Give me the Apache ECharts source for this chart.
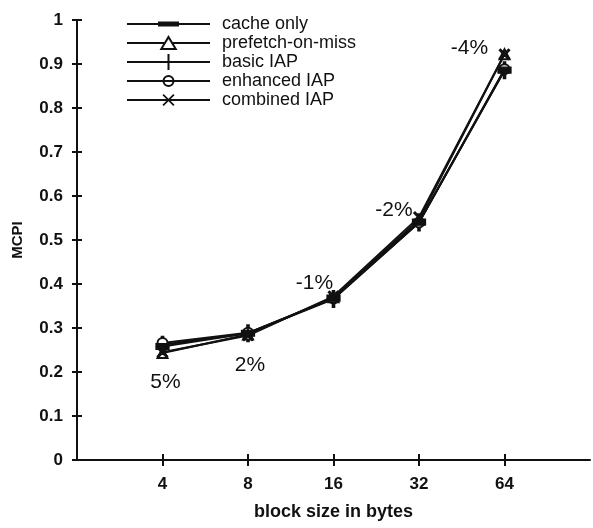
<!DOCTYPE html>
<html>
<head>
<meta charset="utf-8">
<script src="https://cdn.jsdelivr.net/npm/echarts@6/dist/echarts.min.js"></script>
<style>
  html, body { margin: 0; padding: 0; background: #fff; }
  #chart { width: 593px; height: 528px; }
</style>
</head>
<body>
<div id="chart"></div>
<script>
// Block sizes (bytes); empty slots pad the axis on both ends
const blockSizes = ['', '4', '8', '16', '32', '64', ''];

// MCPI per configuration, one value per block size
const cacheOnly    = [0.258, 0.288, 0.368, 0.541, 0.886];
const prefetchMiss = [0.243, 0.285, 0.370, 0.546, 0.922];
const basicIAP     = [0.262, 0.288, 0.366, 0.540, 0.886];
const enhancedIAP  = [0.266, 0.289, 0.367, 0.540, 0.888];
const combinedIAP  = [0.245, 0.283, 0.372, 0.552, 0.922];

// Change of combined IAP relative to cache only
const changeLabels = ['5%', '2%', '-1%', '-2%', '-4%'];
const labelOffsets = [[3, 30], [2, 30], [-19, -13], [-25, -7], [-35, -6]];

const seriesNames = ['cache only', 'prefetch-on-miss', 'basic IAP', 'enhanced IAP', 'combined IAP'];

const FONT = '"Liberation Sans", Arial, Helvetica, sans-serif';
const INK = '#111';

// Point markers
const barPath = 'path://M0,0h4v1h-4z';
const tickPath = 'path://M0,0h1v6h-1z';
const crossPath = 'path://M0,1L1,0L5,4L9,0L10,1L6,5L10,9L9,10L5,6L1,10L0,9L4,5Z';

// Legend icons: a line with its marker, laid out in an 83x17 box
const BOX = 'M0,0L0.01,0L0,0.01Z M83,17L82.99,17L83,16.99Z ';
const fullLine = 'M0,7.5H83V9.5H0Z ';
const legendIcons = [
  'path://' + BOX + fullLine + 'M31,6H52V11H31Z',
  'path://' + BOX + 'M0,7.5H37V9.5H0Z M45.5,7.5H83V9.5H45.5Z ' +
    'M41.5,0.5L50.5,15.5L32.5,15.5Z M41.5,4.4L36,13.5L47,13.5Z',
  'path://' + BOX + fullLine + 'M40.5,0.5H42.5V16.5H40.5Z',
  'path://' + BOX + fullLine +
    'M35.5,8.5A6,6 0 1,1 47.5,8.5A6,6 0 1,1 35.5,8.5Z M37.6,8.5A3.9,3.9 0 1,0 45.4,8.5A3.9,3.9 0 1,0 37.6,8.5Z',
  'path://' + BOX + fullLine +
    'M35.5,3.7L36.7,2.5L41.5,7.3L46.3,2.5L47.5,3.7L42.7,8.5L47.5,13.3L46.3,14.5L41.5,9.7L36.7,14.5L35.5,13.3L40.3,8.5Z'
];

function pad(arr) { return [null].concat(arr); }

function lineSeries(name, values, symbol, size, extra) {
  return Object.assign({
    name: name,
    type: 'line',
    data: pad(values),
    symbol: symbol,
    symbolSize: size,
    showAllSymbol: true,
    connectNulls: false,
    lineStyle: { color: INK, width: 2 },
    itemStyle: { color: INK, borderColor: INK, borderWidth: 1.6 },
    emphasis: { disabled: true },
    animation: false
  }, extra || {});
}

const combinedData = [null].concat(combinedIAP.map((v, i) => ({
  value: v,
  label: {
    show: true,
    position: 'inside',
    offset: labelOffsets[i],
    formatter: changeLabels[i],
    fontFamily: FONT,
    fontSize: 21,
    color: INK
  }
})));

const chart = echarts.init(document.getElementById('chart'), null, { renderer: 'canvas' });

const axisLine = { show: true, lineStyle: { color: INK, width: 2 } };
const tickStyle = { color: INK, width: 2 };
const xTickShown = (i) => i >= 1 && i <= 5;

chart.setOption({
  backgroundColor: '#fff',
  animation: false,
  grid: { left: 77, right: 0, top: 20, bottom: 68, containLabel: false },
  legend: {
    orient: 'vertical',
    left: 122,
    top: 10,
    itemWidth: 83,
    itemHeight: 17,
    itemGap: 1,
    data: seriesNames.map((n, i) => ({ name: n, icon: legendIcons[i] })),
    itemStyle: { color: INK, borderWidth: 0 },
    lineStyle: { width: 0 },
    textStyle: { fontFamily: FONT, fontSize: 18, color: INK, lineHeight: 17, padding: [0, 0, 0, 7] },
    inactiveColor: INK,
    selectedMode: false
  },
  xAxis: [{
    type: 'category',
    data: blockSizes,
    boundaryGap: false,
    axisLine: axisLine,
    axisTick: { show: true, length: 6, inside: false, interval: xTickShown, lineStyle: tickStyle },
    axisLabel: { interval: 0, margin: 16, fontFamily: FONT, fontSize: 17, fontWeight: 'bold', color: INK },
    splitLine: { show: false },
    name: 'block size in bytes',
    nameLocation: 'middle',
    nameGap: 43,
    nameTextStyle: { fontFamily: FONT, fontSize: 18, fontWeight: 'bold', color: INK }
  }, {
    type: 'category',
    data: blockSizes,
    boundaryGap: false,
    position: 'bottom',
    axisLine: { show: false },
    axisTick: { show: true, length: 6, inside: true, interval: xTickShown, lineStyle: tickStyle },
    axisLabel: { show: false },
    splitLine: { show: false }
  }],
  yAxis: [{
    type: 'value',
    min: 0,
    max: 1,
    interval: 0.1,
    axisLine: axisLine,
    axisTick: { show: true, length: 5, inside: false, lineStyle: tickStyle },
    axisLabel: { margin: 14, fontFamily: FONT, fontSize: 17, fontWeight: 'bold', color: INK },
    splitLine: { show: false },
    name: 'MCPI',
    nameLocation: 'middle',
    nameGap: 52,
    nameRotate: 90,
    nameTextStyle: { fontFamily: FONT, fontSize: 15, fontWeight: 'bold', color: INK }
  }, {
    type: 'value',
    min: 0,
    max: 1,
    interval: 0.1,
    position: 'left',
    axisLine: { show: false },
    axisTick: { show: true, length: 5, inside: true, lineStyle: tickStyle },
    axisLabel: { show: false },
    splitLine: { show: false }
  }],
  series: [
    lineSeries(seriesNames[0], cacheOnly, barPath, [12, 6], { symbolKeepAspect: false, z: 5 }),
    lineSeries(seriesNames[1], prefetchMiss, 'emptyTriangle', 10, { z: 4 }),
    lineSeries(seriesNames[2], basicIAP, tickPath, [2, 10], { symbolKeepAspect: false, z: 3 }),
    lineSeries(seriesNames[3], enhancedIAP, 'emptyCircle', 10, { z: 3 }),
    lineSeries(seriesNames[4], combinedIAP, crossPath, 10, { data: combinedData, z: 6 })
  ]
});
</script>
</body>
</html>
